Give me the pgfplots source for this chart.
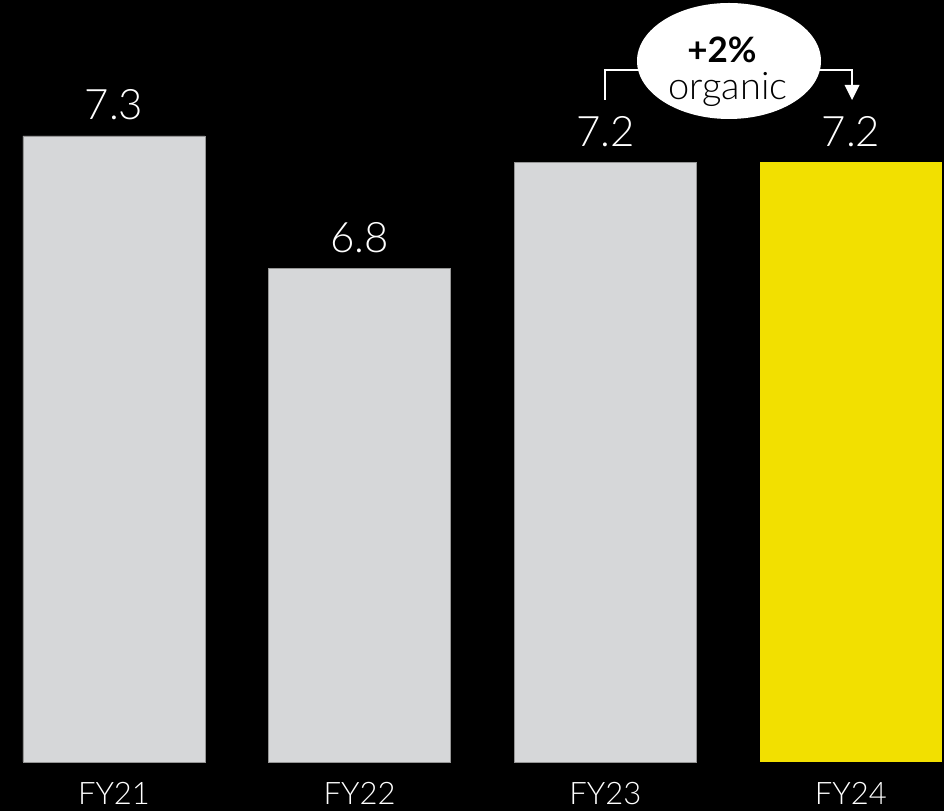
\documentclass[border=0pt]{standalone}
\usepackage{pgfplots}
\pgfplotsset{compat=1.18}
\usepackage{fontspec}
\setmainfont{Lato}[UprightFont={* Light},BoldFont={* Bold}]
\definecolor{bargrey}{RGB}{214,215,217}
\definecolor{baryellow}{RGB}{242,224,0}
\begin{document}
\begin{tikzpicture}[x=1bp,y=1bp]
\path[use as bounding box, fill=black] (0,0) rectangle (944,811);
\begin{axis}[
  at={(0bp,49bp)}, anchor=south west,
  scale only axis, width=944bp, height=762bp,
  xmin=-0.464, xmax=3.379, ymin=4.932, ymax=7.814,
  axis line style={draw=none}, ytick=\empty,
  xtick={0,1,2,3}, xticklabels={FY21,FY22,FY23,FY24},
  major tick length=0pt,
  xticklabel style={anchor=base, yshift=-43bp, inner sep=0pt, text=white, font=\fontsize{31bp}{36bp}\selectfont},
  ybar, bar width=182bp, bar shift=0pt,
  nodes near coords, point meta=explicit symbolic,
  every node near coord/.append style={anchor=base, yshift=16bp, inner sep=0pt, text=white, font=\fontsize{42bp}{48bp}\selectfont},
  clip=false,
]
\addplot[fill=bargrey, draw={rgb,255:red,150;green,150;blue,150}, line width=0.5bp] coordinates {(0,7.3) [7.3] (1,6.8) [6.8] (2,7.2) [7.2]};
\addplot[fill=baryellow, draw=none] coordinates {(3,7.2) [7.2]};
\end{axis}
% annotation
\draw[white, line width=1.8bp] (605,711) -- (605,741) -- (645,741);
\draw[white, line width=1.8bp] (812,741) -- (852,741) -- (852,724);
\fill[white] (844.5,726) -- (859.5,726) -- (852,711) -- cycle;
\fill[white] (729,750) ellipse [x radius=92, y radius=58];
\node[anchor=base, inner sep=0pt, text=black, font=\fontsize{35bp}{40bp}\selectfont\bfseries] at (722,748) {+2\%};
\node[anchor=base, inner sep=0pt, text=black, font=\fontsize{38bp}{42bp}\selectfont] at (728,711) {organic};
\end{tikzpicture}
\end{document}
